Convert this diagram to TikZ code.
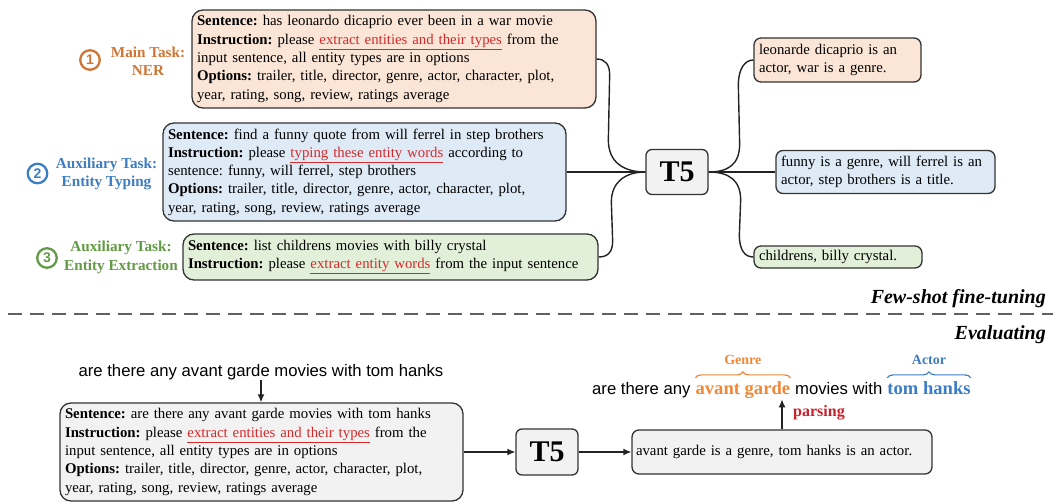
\documentclass[tikz,border=0pt]{standalone}
\usepackage{fontspec}
\setmainfont{Liberation Serif}
\setsansfont{Liberation Sans}
\usetikzlibrary{calc,arrows.meta,decorations.pathreplacing}
\definecolor{peach}{HTML}{FBE5D6}
\definecolor{lblue}{HTML}{DEEBF7}
\definecolor{lgreen}{HTML}{E2F0D9}
\definecolor{lgray}{HTML}{F2F2F2}
\definecolor{hlred}{HTML}{D42A2A}
\definecolor{taskor}{HTML}{CF7535}
\definecolor{taskbl}{HTML}{3D7DC2}
\definecolor{taskgr}{HTML}{639A45}
\definecolor{genreor}{HTML}{F08838}
\definecolor{actorbl}{HTML}{3A7DC5}
\definecolor{parsred}{HTML}{C8202C}
\definecolor{edgec}{HTML}{333333}
\definecolor{linec}{HTML}{222222}
\frenchspacing
\newcommand\boxfont{\fontsize{14.8}{18.3}\selectfont\hyphenpenalty=10000\exhyphenpenalty=10000}
\newcommand\hl[1]{\textcolor{hlred}{\underline{#1}}}
\begin{document}
\begin{tikzpicture}[x=1pt,y=-1pt,
  box/.style={draw=edgec, line width=1.3pt, rounded corners=11pt, inner xsep=5pt, inner ysep=0pt, align=left, font=\boxfont},
  obox/.style={box, rounded corners=7pt},
  tfive/.style={draw=edgec, line width=1.3pt, fill=lgray, rounded corners=6pt, minimum width=62pt, minimum height=45pt, inner sep=0pt, font=\bfseries\fontsize{30}{30}\selectfont},
  conn/.style={line width=1.4pt, draw=linec},
  arr/.style={conn, -{Latex[length=8pt,width=7pt]}},
  tasklbl/.style={align=center, inner sep=0pt, font=\bfseries\fontsize{15.2}{18.5}\selectfont},
  circ/.style={circle, draw, line width=2.3pt, minimum size=19.5pt, inner sep=0pt, font=\sffamily\bfseries\fontsize{14}{14}\selectfont},
  sepl/.style={anchor=base east, inner sep=0pt, font=\bfseries\itshape\fontsize{20}{20}\selectfont},
  dashline/.style={draw=black!62, line width=1.8pt, dash pattern=on 14pt off 8pt},
  sfbig/.style={anchor=base west, inner sep=0pt, font=\sffamily\fontsize{16.7}{20}\selectfont},
  serbig/.style={anchor=base west, inner sep=0pt, font=\bfseries\fontsize{18.6}{20}\selectfont},
  bracel/.style={line width=1.2pt, decorate, decoration={brace, amplitude=6pt}},
  smalllbl/.style={anchor=base, inner sep=0pt, font=\bfseries\fontsize{14}{14}\selectfont}
]
\useasboundingbox (0,0) rectangle (1053,503);

% ---------- few-shot part ----------
\node[box, fill=peach, text width=394pt, minimum height=98pt] (b1) at (394,59)
 {\textbf{Sentence:} has leonardo dicaprio ever been in a war movie\\
  \textbf{Instruction:} please \hl{extract entities and their types} from the\\
  input sentence, all entity types are in options\\
  \textbf{Options:} trailer, title, director, genre, actor, character, plot,\\
  year, rating, song, review, ratings average};
\node[box, fill=lblue, text width=393pt, minimum height=98pt] (b2) at (364.5,172)
 {\textbf{Sentence:} find a funny quote from will ferrel in step brothers\\
  \textbf{Instruction:} please \hl{typing these entity words} according to\\
  sentence: funny, will ferrel, step brothers\\
  \textbf{Options:} trailer, title, director, genre, actor, character, plot,\\
  year, rating, song, review, ratings average};
\node[box, fill=lgreen, text width=405pt, minimum height=46pt] (b3) at (390.5,257)
 {\textbf{Sentence:} list childrens movies with billy crystal\\
  \textbf{Instruction:} please \hl{extract entity words} from the input sentence};

\node[circ, draw=taskor, text=taskor] (c1) at (90,60) {1};
\node[tasklbl, text=taskor] (l1) at (148,61) {Main Task:\\NER};
\node[circ, draw=taskbl, text=taskbl] (c2) at (37.5,173.5) {2};
\node[tasklbl, text=taskbl] (l2) at (106.5,174) {Auxiliary Task:\\Entity Typing};
\node[circ, draw=taskgr, text=taskgr] (c3) at (47,258) {3};
\node[tasklbl, text=taskgr] (l3) at (121,257.5) {Auxiliary Task:\\Entity Extraction};

\node[tfive] (t5) at (677,172) {T5};

\node[obox, fill=peach, text width=157pt, minimum height=44pt] (o1) at (837.5,60)
 {leonarde dicaprio is an\\ actor, war is a genre.};
\node[obox, fill=lblue, text width=209pt, minimum height=43pt] (o2) at (885.5,172)
 {funny is a genre, will ferrel is an\\ actor, step brothers is a title.};
\node[obox, fill=lgreen, text width=158pt, minimum height=22pt] (o3) at (838,257)
 {childrens, billy crystal.};

% connectors left
\draw[conn] (b1.east) .. controls ($(b1.east)+(9,0)$) and ($(b1.east)+(13,6)$) .. ($(b1.east)+(13,16)$)
  -- ($(t5.west)+(-37,-32)$) .. controls ($(t5.west)+(-37,-10)$) and ($(t5.west)+(-22,0)$) .. (t5.west);
\draw[conn] (b2.east) -- (t5.west);
\draw[conn] (b3.east) .. controls ($(b3.east)+(10,0)$) and ($(b3.east)+(14,-6)$) .. ($(b3.east)+(14,-16)$)
  -- ($(t5.west)+(-34,30)$) .. controls ($(t5.west)+(-34,10)$) and ($(t5.west)+(-20,0)$) .. (t5.west);
% connectors right
\draw[conn] (t5.east) .. controls ($(t5.east)+(20,0)$) and ($(t5.east)+(31,-8)$) .. ($(t5.east)+(31,-28)$)
  -- ($(o1.west)+(-15,25)$) .. controls ($(o1.west)+(-15,8)$) and ($(o1.west)+(-8,0)$) .. (o1.west);
\draw[conn] (t5.east) -- (o2.west);
\draw[conn] (t5.east) .. controls ($(t5.east)+(20,0)$) and ($(t5.east)+(32,8)$) .. ($(t5.east)+(32,28)$)
  -- ($(o3.west)+(-14,-22)$) .. controls ($(o3.west)+(-14,-6)$) and ($(o3.west)+(-8,0)$) .. (o3.west);

% ---------- separator ----------
\node[sepl] (fs) at (1046,303) {Few-shot fine-tuning};
\coordinate (dl) at (8,314);
\coordinate (dr) at (1053,314);
\draw[dashline] (dl) -- (dr);
\node[sepl] (ev) at (1046,339) {Evaluating};

% ---------- evaluating part ----------
\node[inner sep=0pt, font=\sffamily\fontsize{16.7}{20}\selectfont] (q) at (261,372) {are there any avant garde movies with tom hanks};
\node[box, fill=lgray, text width=393pt, minimum height=98pt] (bb) at (261.5,452)
 {\textbf{Sentence:} are there any avant garde movies with tom hanks\\
  \textbf{Instruction:} please \hl{extract entities and their types} from the\\
  input sentence, all entity types are in options\\
  \textbf{Options:} trailer, title, director, genre, actor, character, plot,\\
  year, rating, song, review, ratings average};
\draw[arr] (q.south) -- (q.south |- bb.north);

\node[tfive, minimum height=46pt] (t5b) at (547,452) {T5};
\node[obox, fill=lgray, text width=292pt, inner xsep=4pt, minimum height=44pt] (ob) at (782,452)
 {avant garde is a genre, tom hanks is an actor.};
\draw[arr] (bb.east) -- (t5b.west);
\draw[arr] (t5b.east) -- (ob.west);
\coordinate (pu) at ($(ob.north)+(0,-30)$);
\draw[arr] (ob.north) -- (pu);
\node[anchor=west, inner sep=0pt, text=parsred, font=\bfseries\fontsize{16}{16}\selectfont] (pars) at ($(ob.north)+(11,-17)$) {parsing};

\node[sfbig] (r1) at (592,394) {are there any};
\node[serbig, text=genreor] (r2) at ($(r1.base east)+(4.6,0)$) {avant garde};
\node[sfbig] (r3) at ($(r2.base east)+(4.6,0)$) {movies with};
\node[serbig, text=actorbl] (r4) at ($(r3.base east)+(4.6,0)$) {tom hanks};
\draw[bracel, genreor] ($(r2.north west)+(0,-3)$) -- ($(r2.north east)+(0,-3)$);
\draw[bracel, actorbl] ($(r4.north west)+(0,-3)$) -- ($(r4.north east)+(0,-3)$);
\node[smalllbl, text=genreor] (gl) at ($(r2.north)+(0,-16)$) {Genre};
\node[smalllbl, text=actorbl] (al) at ($(r4.north)+(0,-16)$) {Actor};
\end{tikzpicture}
\end{document}
